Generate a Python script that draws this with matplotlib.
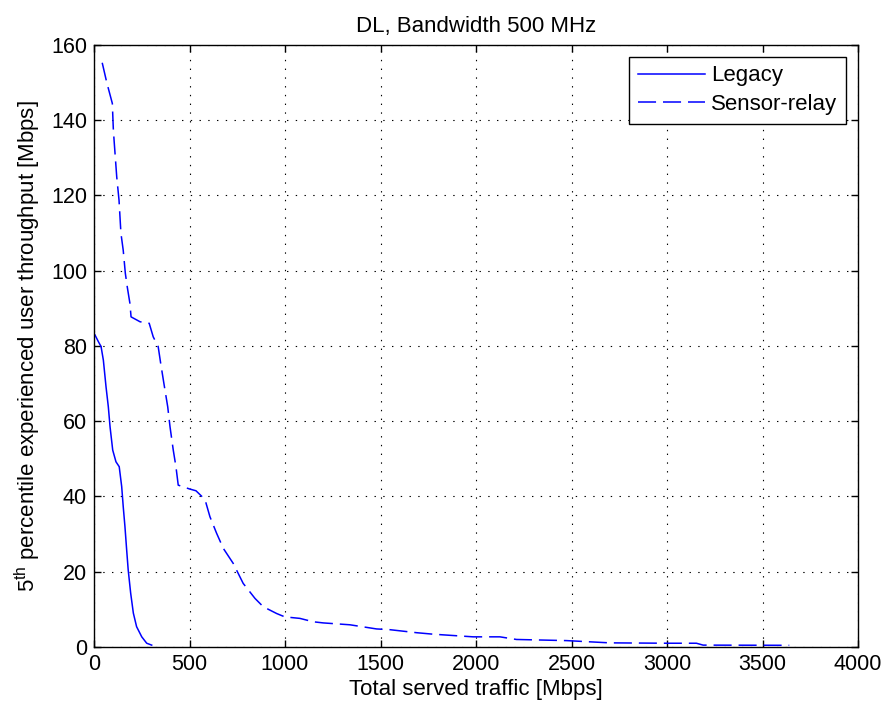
import matplotlib
matplotlib.use("Agg")
import matplotlib.pyplot as plt

plt.rcParams["font.family"] = ["Liberation Sans", "DejaVu Sans"]
plt.rcParams["mathtext.fontset"] = "custom"
plt.rcParams["mathtext.rm"] = "Liberation Sans"
plt.rcParams["lines.scale_dashes"] = False

legacy_x = [5, 23, 37, 49, 63, 75, 84, 98, 115, 132, 145, 153, 162, 171,
            179, 192, 206, 223, 250, 276, 302]
legacy_y = [82.9, 81.1, 79.8, 76.2, 69.1, 63.8, 58.5, 52.3, 49.2, 47.9, 42.6,
            37.3, 32.0, 25.8, 20.5, 14.3, 9.0, 5.4, 2.7, 1.0, 0.5]

relay_x = [43, 63, 75, 96, 98, 101, 105, 119, 131, 141, 153, 164, 174, 188,
           194, 241, 289, 310, 336, 349, 366, 386, 398, 415, 429, 441, 499,
           534, 581, 607, 642, 677, 729, 781, 843, 886, 956, 999, 1078, 1148,
           1200, 1340, 1479, 1549, 1689, 1776, 1985, 2125, 2212, 2473, 2700,
           3000, 3154, 3189, 3640]
relay_y = [155.2, 150.8, 148.4, 144.4, 141.7, 137.8, 134.7, 124.9, 118.7,
           109.9, 105.4, 99.3, 95.7, 91.3, 87.7, 86.4, 86.0, 82.4, 79.8, 75.4,
           70.0, 63.8, 58.5, 52.3, 47.9, 43.0, 42.0, 41.5, 39.2, 34.6, 30.2,
           26.2, 22.2, 16.9, 12.9, 10.7, 8.9, 8.0, 7.6, 6.7, 6.4, 5.9, 4.8,
           4.6, 3.8, 3.4, 2.7, 2.7, 2.0, 1.7, 1.1, 1.0, 1.0, 0.5, 0.45]

x_ticks = [0, 500, 1000, 1500, 2000, 2500, 3000, 3500, 4000]
y_ticks = [0, 20, 40, 60, 80, 100, 120, 140, 160]

fs = 16
fs_tick = 15.5

fig = plt.figure(figsize=(8.83, 7.11), dpi=100)
ax = fig.add_axes([94 / 883, 1 - 647 / 711, 764 / 883, (647 - 44.7) / 711])

ax.plot(legacy_x, legacy_y, color="#0000ff", lw=1.1, label="Legacy")
ax.plot(relay_x, relay_y, color="#0000ff", lw=1.1, dashes=(13, 5),
        label="Sensor-relay")

ax.set_xlim(0, 4000)
ax.set_ylim(0, 160)
ax.set_xticks(x_ticks)
ax.set_yticks(y_ticks)
ax.tick_params(direction="in", top=True, right=True, length=5, width=1,
               labelsize=fs_tick, pad=5)
for s in ax.spines.values():
    s.set_linewidth(1.0)
ax.grid(True, color="black", linestyle=(0, (1, 5.3)), linewidth=0.8)

ax.set_title("DL, Bandwidth 500 MHz", fontsize=fs, pad=9)
ax.set_xlabel("Total served traffic [Mbps]", fontsize=fs, labelpad=3)
ax.set_ylabel(r"5$^{\mathrm{th}}$ percentile experienced user throughput [Mbps]",
              fontsize=fs, labelpad=6)

leg = ax.legend(loc="upper right", fontsize=fs, fancybox=False, framealpha=1,
                edgecolor="black", borderaxespad=0.55, handlelength=3.0,
                handletextpad=0.3, borderpad=0.38, labelspacing=0.35)
leg.get_frame().set_linewidth(1.0)

fig.savefig("out.png", dpi=100)
